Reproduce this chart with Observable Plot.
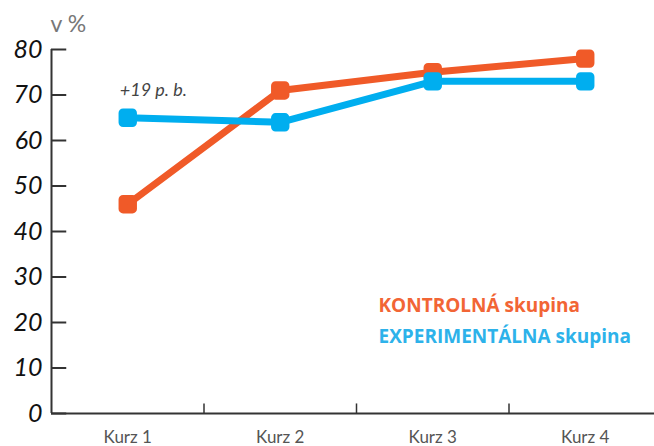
<!DOCTYPE html>
<html>
<head>
<meta charset="utf-8">
<script src="https://cdn.jsdelivr.net/npm/d3@7"></script>
<script src="https://cdn.jsdelivr.net/npm/@observablehq/plot@0.6"></script>
<style>
  html, body { margin: 0; padding: 0; background: #fff; }
  #chart svg { font-family: Lato, "Open Sans", sans-serif; }
  #chart g[aria-label="y-axis tick label"] text { font-style: italic; font-size: 25px; fill: #111; }
  #chart g[aria-label="x-axis tick label"] text { font-size: 17px; fill: #555; }
</style>
</head>
<body>
<div id="chart"></div>
<script>
const categories = ["Kurz 1", "Kurz 2", "Kurz 3", "Kurz 4"];
const kontrolna = [46, 71, 75, 78];
const experimentalna = [65, 64, 73, 73];
const yTicks = [0, 10, 20, 30, 40, 50, 60, 70, 80];
const seriesNames = ["KONTROLNÁ skupina", "EXPERIMENTÁLNA skupina"];
const seriesColors = ["#f05a28", "#00aeef"];
const legendColors = ["#f26535", "#2db2ea"];
const yUnit = "v %";
const annotation = {text: "+19 p. b.", category: "Kurz 1", value: 71};

const seriesValues = [kontrolna, experimentalna];
const data = [];
seriesNames.forEach((s, si) => {
  categories.forEach((c, ci) => {
    data.push({series: s, cat: c, idx: ci + 1, value: seriesValues[si][ci]});
  });
});
const catIndex = c => categories.indexOf(c) + 1;

const legendMarks = seriesNames.map((s, i) => Plot.text([s], {
  frameAnchor: "top-left", textAnchor: "start", lineAnchor: "middle",
  dx: 327, dy: 256 + i * 31, fill: legendColors[i],
  fontSize: 19, fontWeight: "bold", fontFamily: "'Open Sans', sans-serif"
}));

const chart = Plot.plot({
  width: 654,
  height: 446,
  marginLeft: 51,
  marginTop: 49,
  marginBottom: 33,
  marginRight: 0,
  x: {type: "linear", domain: [0.5, categories.length + 0.5], range: [51, 661]},
  y: {domain: [0, 80], range: [413, 49]},
  color: {domain: seriesNames, range: seriesColors},
  marks: [
    Plot.axisY({ticks: yTicks, tickSize: 0, tickPadding: 9, label: null}),
    Plot.axisX({ticks: categories.map((c, i) => i + 1), tickFormat: i => categories[i - 1], tickSize: 0, tickPadding: 17, label: null}),
    Plot.ruleX([0.5], {y1: 0, y2: 80, stroke: "#333", strokeWidth: 2}),
    Plot.ruleY([0], {stroke: "#333", strokeWidth: 1.8}),
    Plot.ruleY(yTicks, {x1: 0.5, x2: 0.6, stroke: "#333", strokeWidth: 2}),
    Plot.ruleX(categories.slice(1).map((c, i) => i + 1.5), {y1: 0, y2: 2.1, stroke: "#333", strokeWidth: 1.5}),
    Plot.text([yUnit], {frameAnchor: "top-left", textAnchor: "start", lineAnchor: "middle", dx: -1, dy: -25, fill: "#777", fontSize: 23}),
    Plot.line(data, {x: "idx", y: "value", z: "series", stroke: "series", strokeWidth: 7}),
    Plot.dot(data, {x: "idx", y: "value", fill: "series", stroke: "series", symbol: "square", r: 5.3, strokeWidth: 9, strokeLinejoin: "round"}),
    Plot.text([annotation], {x: d => catIndex(d.category), y: "value", text: "text", textAnchor: "start", dx: -8, fill: "#444", fontSize: 18, fontStyle: "italic", letterSpacing: "0.4px"}),
    ...legendMarks
  ]
});
document.getElementById("chart").appendChild(chart);
</script>
</body>
</html>
